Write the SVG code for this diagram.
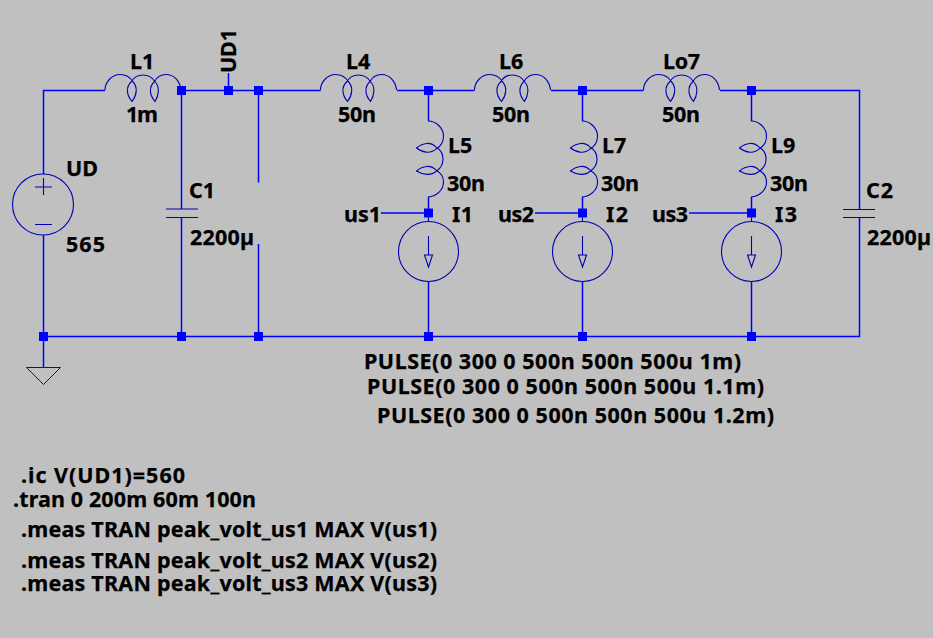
<svg xmlns="http://www.w3.org/2000/svg" xmlns:xlink="http://www.w3.org/1999/xlink" width="933" height="638" viewBox="0 0 933 638">
<style>
text{font-family:"Noto Sans","Open Sans","DejaVu Sans",sans-serif;font-weight:700;font-size:21.5px;fill:#000;stroke:#000;stroke-width:.25}
.w{fill:none;stroke:#0000ff;stroke-width:1.5}
.s{fill:none;stroke:#0000b4;stroke-width:1.1}
.g{fill:none;stroke:#0000ff;stroke-width:1}
.j{fill:#0000ff}
</style>
<defs>
<path id="coil" class="s" d="M0,0 C0,-8 7,-15.5 15,-15.5 C21,-15.5 25,-13 27.700,-8.500 C33,-3 32,5 27,11.500 C21.500,5 20.500,-3 26.500,-8.500 C29,-13 33,-15 38,-15 C43,-15 47,-13 50,-8.500 C55,-3 54,5 50,11.500 C44.500,5 43.500,-3 49.500,-8.500 C52,-13 56,-15.500 61,-15.500 C69,-15.500 75,-9 76,0"/>
<rect id="dot" class="j" x="-4.500" y="-4.500" width="9" height="9"/>
<g id="isrc">
<circle class="s" cx="0" cy="38.500" r="30"/>
<path class="s" d="M0,4.500 V8.500 M0,23 V42 M-4,42 H4 L0,54 Z"/>
</g>
</defs>
<rect width="933" height="638" fill="#c0c0c0"/>
<g id="connectors">
<path class="w" d="M105,90.500 H43.500 V174 M43.500,235 V367 M43.500,336.500 H859.500 V217.500 M859.500,209.500 V90.500 H751.500 M181,90.500 H320.500 M397,90.500 H474.500 M551,90.500 H643.500 M720,90.500 H751.500 M181.500,90.500 V209 M181.500,217.500 V336.500 M228.500,90.500 V73 M258.500,90.500 V182.500 M258.500,244 V336.500 M428.500,90.500 V121 M582.500,90.500 V121 M751.500,90.500 V121 M428.500,197 V213 M582.500,197 V213 M751.500,197 V213 M381,213 H428.500 M535,213 H582.500 M689,213 H751.500 M428.500,281 V336.500 M582.500,281 V336.500 M751.500,281 V336.500"/>
<use href="#dot" x="181.500" y="90.500"/>
<use href="#dot" x="228.500" y="90.500"/>
<use href="#dot" x="258.500" y="90.500"/>
<use href="#dot" x="428.500" y="90.500"/>
<use href="#dot" x="582.500" y="90.500"/>
<use href="#dot" x="751.500" y="90.500"/>
<use href="#dot" x="43.500" y="336.500"/>
<use href="#dot" x="181.500" y="336.500"/>
<use href="#dot" x="258.500" y="336.500"/>
<use href="#dot" x="428.500" y="336.500"/>
<use href="#dot" x="582.500" y="336.500"/>
<use href="#dot" x="751.500" y="336.500"/>
<use href="#dot" x="428.500" y="213"/>
<use href="#dot" x="582.500" y="213"/>
<use href="#dot" x="751.500" y="213"/>
</g>
<g id="UD">
<circle class="s" cx="43" cy="204.500" r="30.500"/>
<path class="s" d="M35,187 H52 M43.500,178 V195 M35,224.500 H52"/>
<text x="66" y="176">UD</text><text x="66" y="252" textLength="39">565</text>
</g>
<g id="GND"><path class="g" d="M26.500,367.500 H60.500 L43.500,384.500 Z"/></g>
<g id="L1"><use href="#coil" transform="translate(105,90)"/><text x="130" y="69">L1</text><text x="126" y="122" textLength="32">1m</text></g>
<g id="UD1-label"><text transform="translate(236,73) rotate(-90)" textLength="44">UD1</text></g>
<g id="C1"><path class="s" d="M166,209 H198 M166,217.500 H198"/><text x="189" y="198" textLength="26">C1</text><text x="190" y="245" textLength="64">2200µ</text></g>
<g id="L4"><use href="#coil" transform="translate(320.500,90)"/><text x="346" y="69">L4</text><text x="338" y="122" textLength="38">50n</text></g>
<g id="L6"><use href="#coil" transform="translate(474.500,90)"/><text x="499" y="69">L6</text><text x="492" y="122" textLength="38">50n</text></g>
<g id="Lo7"><use href="#coil" transform="translate(643.500,90)"/><text x="663" y="69" textLength="37">Lo7</text><text x="662" y="122" textLength="38">50n</text></g>
<g id="L5"><use href="#coil" transform="translate(428,121) rotate(90)"/><text x="448" y="152.500">L5</text><text x="447" y="190.500" textLength="38">30n</text></g>
<g id="L7"><use href="#coil" transform="translate(582,121) rotate(90)"/><text x="602" y="152.500">L7</text><text x="601" y="190.500" textLength="38">30n</text></g>
<g id="L9"><use href="#coil" transform="translate(751,121) rotate(90)"/><text x="771" y="152.500">L9</text><text x="770" y="190.500" textLength="38">30n</text></g>
<g id="I1"><use href="#isrc" x="428.500" y="213"/><text x="452" y="221.500" textLength="21">I1</text><text x="344" y="221.500" textLength="37">us1</text></g>
<g id="I2"><use href="#isrc" x="582.500" y="213"/><text x="606" y="221.500" textLength="22">I2</text><text x="498" y="221.500" textLength="36">us2</text></g>
<g id="I3"><use href="#isrc" x="751.500" y="213"/><text x="775" y="221.500" textLength="22">I3</text><text x="652" y="221.500" textLength="36">us3</text></g>
<g id="C2"><path class="s" d="M843,209.500 H875 M843,217.500 H875"/><text x="866" y="198" textLength="27">C2</text><text x="867" y="245" textLength="64">2200µ</text></g>
<g id="directives">
<text x="364" y="369" textLength="377">PULSE(0 300 0 500n 500n 500u 1m)</text>
<text x="367" y="394" textLength="397">PULSE(0 300 0 500n 500n 500u 1.1m)</text>
<text x="377" y="423" textLength="397">PULSE(0 300 0 500n 500n 500u 1.2m)</text>
<text x="21" y="483" textLength="164">.ic V(UD1)=560</text>
<text x="13" y="507" textLength="243">.tran 0 200m 60m 100n</text>
<text x="21" y="536.500" textLength="416">.meas TRAN peak_volt_us1 MAX V(us1)</text>
<text x="21" y="567.500" textLength="416">.meas TRAN peak_volt_us2 MAX V(us2)</text>
<text x="21" y="591" textLength="416">.meas TRAN peak_volt_us3 MAX V(us3)</text>
</g>
</svg>
